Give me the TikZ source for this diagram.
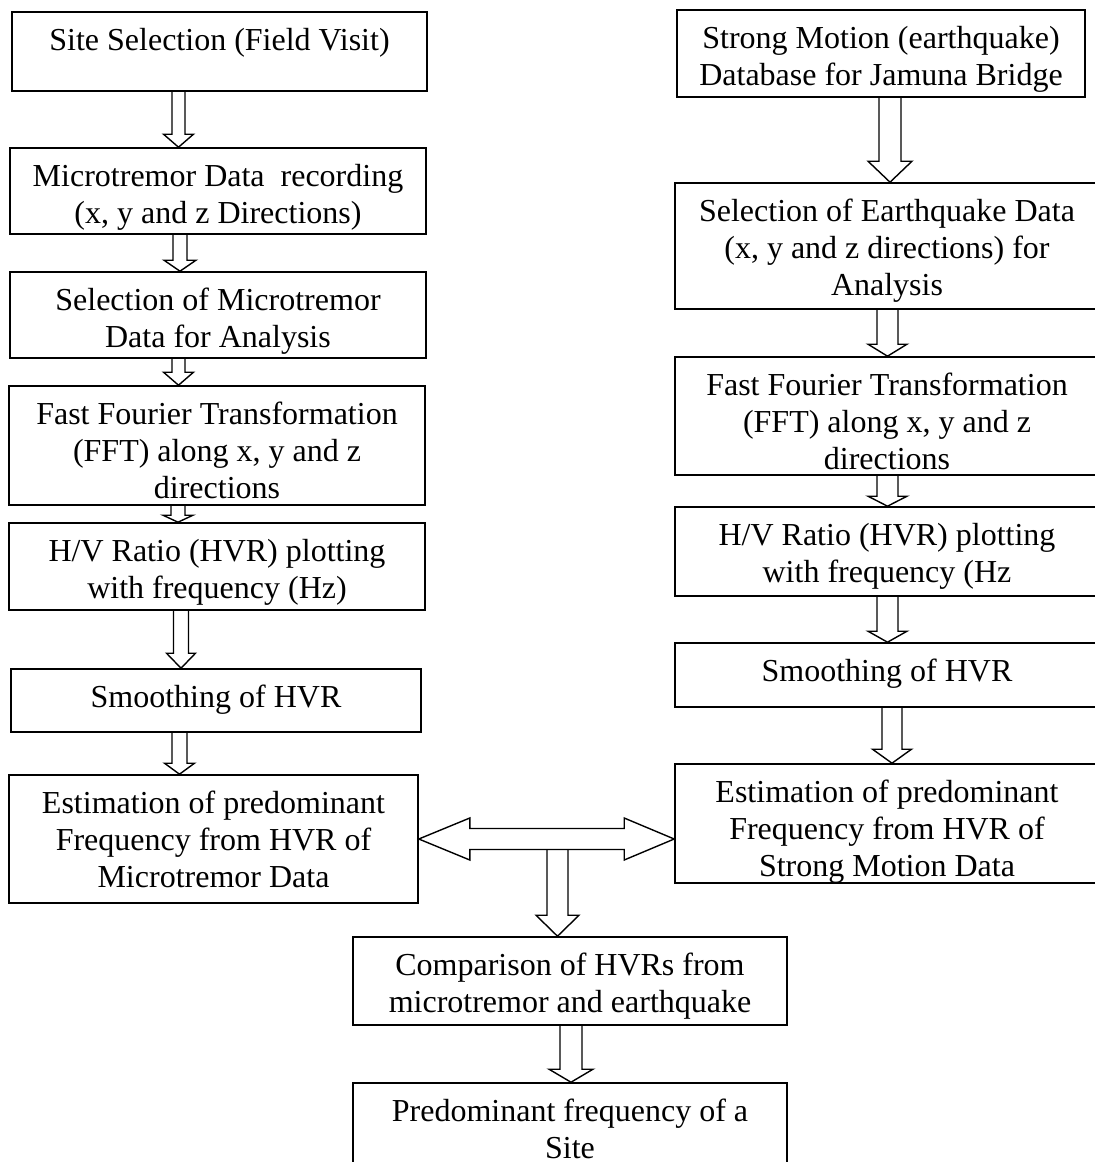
\documentclass[tikz,border=0pt]{standalone}
\usepackage{fontspec}
\setmainfont{Liberation Serif}
\usetikzlibrary{calc}

\tikzset{
  stepbox/.style={draw, line width=0.8pt, inner sep=0pt,
    font=\fontsize{16}{18.5}\selectfont},
  boxsize/.style n args={3}{minimum width=#1, text height=#2, text depth=#3},
  blockline/.style={line width=0.7pt}
}

% text lines of a box, hung from the first baseline
\newcommand{\boxlines}[1]{\begin{tabular}[t]{@{}c@{}}#1\end{tabular}}

% hollow block arrow: x, from, to, half shaft, half head, head length (px)
\newcommand{\blockdown}[6]{%
  \draw[blockline] let \p1=(#2), \p2=(#3) in
    ({(#1-#4)*0.5pt},\y1) -- ({(#1-#4)*0.5pt},{\y2+#6*0.5pt})
    -- ({(#1-#5)*0.5pt},{\y2+#6*0.5pt}) -- ({#1*0.5pt},\y2)
    -- ({(#1+#5)*0.5pt},{\y2+#6*0.5pt}) -- ({(#1+#4)*0.5pt},{\y2+#6*0.5pt})
    -- ({(#1+#4)*0.5pt},\y1);}

\begin{document}
\begin{tikzpicture}[x=0.5pt,y=-0.5pt]
    \clip (0,0) rectangle (1095,1162);
    % microtremor column
    \node[stepbox, boxsize={207.5pt}{19pt}{20.5pt}] (site) at (219.5,51.5) {\boxlines{Site Selection (Field Visit)}};
    \node[stepbox, boxsize={208pt}{19pt}{24pt}] (record) at (218,191) {\boxlines{Microtremor Data\ \ recording\\(x, y and z Directions)}};
    \node[stepbox, boxsize={208pt}{19pt}{24pt}] (selmt) at (218,315) {\boxlines{Selection of Microtremor\\Data for Analysis}};
    \node[stepbox, boxsize={208pt}{19pt}{40.5pt}] (fftmt) at (217,445.5) {\boxlines{Fast Fourier Transformation\\(FFT) along x, y and z\\directions}};
    \node[stepbox, boxsize={208pt}{19pt}{24.5pt}] (hvrmt) at (217,566.5) {\boxlines{H/V Ratio (HVR) plotting\\with frequency (Hz)}};
    \node[stepbox, boxsize={205pt}{19pt}{12.5pt}] (smoothmt) at (216,700.5) {\boxlines{Smoothing of HVR}};
    \node[stepbox, boxsize={204.5pt}{19pt}{45pt}] (estmt) at (213.5,839) {\boxlines{Estimation of predominant\\Frequency from HVR of\\Microtremor Data}};
    % earthquake column
    \node[stepbox, boxsize={204pt}{19pt}{24.5pt}] (sm) at (881,53.5) {\boxlines{Strong Motion (earthquake)\\Database for Jamuna Bridge}};
    \node[stepbox, boxsize={212pt}{19pt}{44pt}] (seleq) at (887,246) {\boxlines{Selection of Earthquake Data\\(x, y and z directions) for\\Analysis}};
    \node[stepbox, boxsize={212pt}{19pt}{40pt}] (ffteq) at (887,416) {\boxlines{Fast Fourier Transformation\\(FFT) along x, y and z\\directions}};
    \node[stepbox, boxsize={212pt}{19pt}{25.5pt}] (hvreq) at (887,551.5) {\boxlines{H/V Ratio (HVR) plotting\\with frequency (Hz}};
    \node[stepbox, boxsize={212pt}{19pt}{13pt}] (smootheq) at (887,675) {\boxlines{Smoothing of HVR}};
    \node[stepbox, boxsize={212pt}{19pt}{40.5pt}] (esteq) at (887,823.5) {\boxlines{Estimation of predominant\\Frequency from HVR of\\Strong Motion Data}};
    % comparison
    \node[stepbox, boxsize={217pt}{19pt}{25pt}] (compare) at (570,981) {\boxlines{Comparison of HVRs from\\microtremor and earthquake}};
    \node[stepbox, boxsize={217pt}{19pt}{24.5pt}] (result) at (570,1126.5) {\boxlines{Predominant frequency of a\\Site}};

    \blockdown{178.5}{site.south}{record.north}{6.5}{15}{13}
    \blockdown{180}{record.south}{selmt.north}{7}{16}{11}
    \blockdown{178.5}{selmt.south}{fftmt.north}{6.5}{15}{13}
    \blockdown{178}{fftmt.south}{hvrmt.north}{7}{15}{7}
    \blockdown{181}{hvrmt.south}{smoothmt.north}{7.5}{14.5}{15}
    \blockdown{179.5}{smoothmt.south}{estmt.north}{7.5}{15}{11}

    \blockdown{890}{sm.south}{seleq.north}{11}{22}{21}
    \blockdown{887.5}{seleq.south}{ffteq.north}{10.5}{19.5}{12}
    \blockdown{887.5}{ffteq.south}{hvreq.north}{10.5}{19.5}{10}
    \blockdown{887.5}{hvreq.south}{smootheq.north}{10.5}{19.5}{11}
    \blockdown{892}{smootheq.south}{esteq.north}{10}{19.5}{14}

    % double arrow between the two estimates
    \draw[blockline] let \p1=(estmt.east), \p2=(estmt.east -| esteq.west) in
      (\x1,\y1) -- ++(25.5pt,10.5pt) -- ++(0,-5.25pt) -- (\x2-25pt,\y1+5.25pt)
      -- ++(0,5.25pt) -- (\x2,\y1) -- ++(-25pt,-10.5pt) -- ++(0,5.25pt)
      -- (\x1+25.5pt,\y1-5.25pt) -- ++(0,-5.25pt) -- cycle;
    \coordinate (hub) at (557.5,850);
    \blockdown{557.5}{hub}{compare.north}{10.5}{21.5}{21}
    \blockdown{571}{compare.south}{result.north}{11}{22}{13}
\end{tikzpicture}
\end{document}
